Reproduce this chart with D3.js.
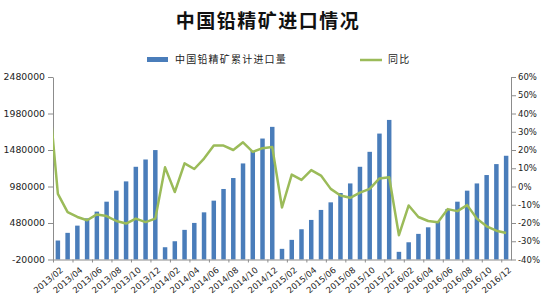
<!DOCTYPE html>
<html>
<head>
<meta charset="utf-8">
<script src="https://cdn.jsdelivr.net/npm/d3@7"></script>
<style>
  body { margin: 0; background: #fff; }
  svg { display: block; }
  .axis text { font-family: "DejaVu Sans", sans-serif; fill: #222; }
  .axis path, .axis line { stroke: #8c8c8c; }
</style>
</head>
<body>
<div id="chart"></div>
<script>
// categories (months on the bar axis)
const months = [
  '2013/02', '2013/03', '2013/04', '2013/05', '2013/06', '2013/07', '2013/08', '2013/09', '2013/10', '2013/11', '2013/12',
  '2014/01', '2014/02', '2014/03', '2014/04', '2014/05', '2014/06', '2014/07', '2014/08', '2014/09', '2014/10', '2014/11', '2014/12',
  '2015/01', '2015/02', '2015/03', '2015/04', '2015/05', '2015/06', '2015/07', '2015/08', '2015/09', '2015/10', '2015/11', '2015/12',
  '2016/01', '2016/02', '2016/03', '2016/04', '2016/05', '2016/06', '2016/07', '2016/08', '2016/09', '2016/10', '2016/11', '2016/12'
]

// 中国铅精矿累计进口量
const imports = [
  240000, 345000, 444000, 544000, 636000, 772000, 923000, 1050000, 1250000, 1350000, 1479000,
  148000, 230000, 386000, 481000, 626000, 786000, 946000, 1096000, 1296000, 1469000, 1637000, 1797000,
  126000, 249000, 394000, 522000, 659000, 763000, 891000, 1022000, 1250000, 1455000, 1705000, 1892000,
  85000, 216000, 331000, 421000, 503000, 672000, 772000, 923000, 1022000, 1137000, 1287000, 1401000
]

// 同比 (%), first value is 2013/01, which sits left of the first bar and gets clipped
const yoy = [
  55,
  -4.0, -14.0, -16.7, -18.5, -15.3, -16.2, -18.9, -20.3, -17.6, -19.5, -17.6,
  10.5, -3.0, 12.7, 9.6, 15.3, 22.4, 22.4, 20.0, 24.2, 19.0, 21.0, 21.6,
  -11.5, 6.5, 3.6, 9.0, 6.0, -1.3, -4.9, -6.2, -3.4, -1.3, 4.4, 5.1,
  -26.7, -10.4, -16.7, -18.9, -19.6, -12.4, -13.5, -10.2, -17.6, -21.8, -24.2, -25.5
]

const leftTicks = [-20000, 480000, 980000, 1480000, 1980000, 2480000]
const rightTicks = [-40, -30, -20, -10, 0, 10, 20, 30, 40, 50, 60]

const width = 550
const height = 300
const m = { left: 53, right: 511, top: 77, bottom: 259.5 }

const svg = d3.select('#chart')
  .append('svg')
  .attr('width', width)
  .attr('height', height)

const x = d3.scaleLinear()
  .domain([-0.5, months.length - 0.5])
  .range([m.left, m.right])

const y = d3.scaleLinear()
  .domain([-20000, 2480000])
  .range([m.bottom, m.top])

const y2 = d3.scaleLinear()
  .domain([-40, 60])
  .range([m.bottom, m.top])

const step = x(1) - x(0)
const barWidth = step * 0.46

// title
svg.append('text')
  .attr('x', 268)
  .attr('y', 28)
  .attr('text-anchor', 'middle')
  .style('font-family', '"Noto Sans CJK SC", sans-serif')
  .style('font-weight', 'bold')
  .style('font-size', '19px')
  .style('letter-spacing', '1.5px')
  .style('fill', '#111')
  .text('中国铅精矿进口情况')

// legend
const legend = svg.append('g')
  .style('font-family', '"Noto Sans CJK SC", sans-serif')
  .style('font-size', '10px')
  .style('letter-spacing', '1.2px')
  .style('fill', '#222')

legend.append('rect')
  .attr('x', 147).attr('y', 57).attr('width', 21).attr('height', 5)
  .attr('fill', '#4a7dba')
legend.append('text').attr('x', 175).attr('y', 63).text('中国铅精矿累计进口量')
legend.append('line')
  .attr('x1', 360).attr('x2', 382).attr('y1', 60).attr('y2', 60)
  .attr('stroke', '#9bbb59').attr('stroke-width', 2.5)
legend.append('text').attr('x', 388).attr('y', 63).text('同比')

// clip for the line
svg.append('defs').append('clipPath')
  .attr('id', 'plot-clip')
  .append('rect')
  .attr('x', m.left).attr('y', m.top - 10)
  .attr('width', m.right - m.left).attr('height', m.bottom - m.top + 10)

// bars
svg.append('g')
  .selectAll('rect')
  .data(imports)
  .join('rect')
  .attr('x', (d, i) => x(i) - barWidth / 2)
  .attr('y', d => y(d))
  .attr('width', barWidth)
  .attr('height', d => y(-20000) - y(d))
  .attr('fill', '#4a7dba')

// axes
const leftAxis = svg.append('g')
  .attr('class', 'axis')
  .attr('transform', `translate(${m.left},0)`)
  .call(d3.axisLeft(y).tickValues(leftTicks).tickSize(5).tickSizeOuter(0).tickFormat(d => String(d)))
leftAxis.selectAll('text').style('font-size', '9.3px').attr('x', -8)

const rightAxis = svg.append('g')
  .attr('class', 'axis')
  .attr('transform', `translate(${m.right},0)`)
  .call(d3.axisRight(y2).tickValues(rightTicks).tickSize(5).tickSizeOuter(0).tickFormat(d => String(d) + '%'))
rightAxis.selectAll('text').style('font-size', '8.5px').attr('x', 7)

svg.append('g')
  .attr('class', 'axis')
  .attr('transform', `translate(0,${m.bottom})`)
  .call(d3.axisBottom(x)
    .tickValues(d3.range(-0.5, months.length, 2))
    .tickSize(3)
    .tickSizeOuter(0)
    .tickFormat(''))

// month labels, every other category
svg.append('g')
  .attr('class', 'axis')
  .selectAll('text')
  .data(months.map((mo, i) => ({ mo, i })).filter(d => d.i % 2 === 0))
  .join('text')
  .attr('transform', d => `translate(${x(d.i) + 2},${m.bottom + 7}) rotate(-40)`)
  .attr('text-anchor', 'end')
  .attr('dy', '0.7em')
  .style('font-size', '8.5px')
  .text(d => d.mo)

// 同比 line
const line = d3.line()
  .x((d, i) => x(i - 1))
  .y(d => y2(d))

svg.append('path')
  .datum(yoy)
  .attr('clip-path', 'url(#plot-clip)')
  .attr('fill', 'none')
  .attr('stroke', '#9bbb59')
  .attr('stroke-width', 2.5)
  .attr('stroke-linejoin', 'round')
  .attr('d', line)
</script>
</body>
</html>
